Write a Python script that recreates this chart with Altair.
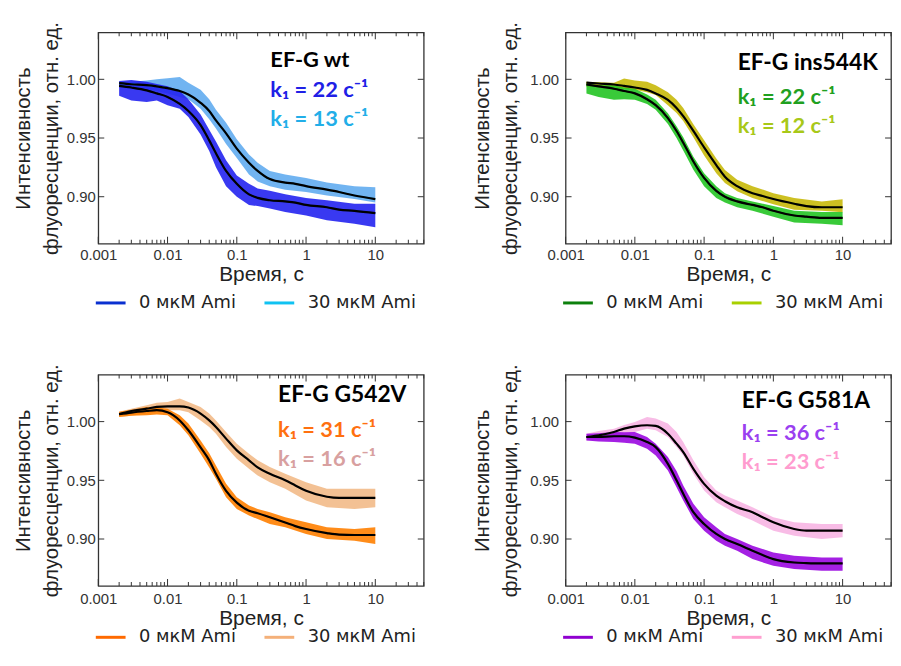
import altair as alt
import pandas as pd

# ---------------- data ----------------
T_FIT = [0.002, 0.003, 0.005, 0.007, 0.01, 0.015, 0.02, 0.03, 0.04, 0.05, 0.07,
         0.1, 0.15, 0.2, 0.3, 0.5, 0.7, 1, 2, 3, 5, 10]
T_BAND = [0.002, 0.003, 0.005, 0.007, 0.01, 0.015, 0.02, 0.03, 0.04, 0.05, 0.07,
          0.1, 0.15, 0.2, 0.3, 0.5, 1, 2, 5, 10]

SERIES = ["0 мкМ Ami", "30 мкМ Ami"]
PANEL_TITLES = ["EF-G wt", "EF-G ins544K", "EF-G G542V", "EF-G G581A"]
RATES = [[22, 13], [22, 12], [31, 16], [36, 23]]

# fitted curves (black lines)
FIT_WT_0 = [0.9944, 0.993, 0.9906, 0.988, 0.985, 0.979, 0.973, 0.961, 0.948, 0.937, 0.922,
            0.911, 0.902, 0.899, 0.897, 0.896, 0.895, 0.893, 0.891, 0.889, 0.888, 0.886]
FIT_WT_30 = [0.9967, 0.9958, 0.995, 0.994, 0.9925, 0.990, 0.987, 0.980, 0.973, 0.965, 0.954,
             0.941, 0.929, 0.922, 0.915, 0.912, 0.911, 0.909, 0.906, 0.904, 0.901, 0.898]
FIT_INS_0 = [0.9956, 0.994, 0.992, 0.990, 0.988, 0.983, 0.978, 0.967, 0.956, 0.946, 0.930,
             0.916, 0.905, 0.900, 0.896, 0.893, 0.891, 0.888, 0.884, 0.883, 0.882, 0.882]
FIT_INS_30 = [0.9972, 0.9964, 0.9956, 0.9944, 0.993, 0.991, 0.988, 0.9825, 0.9756, 0.9686, 0.956,
              0.942, 0.927, 0.917, 0.909, 0.903, 0.9006, 0.898, 0.894, 0.892, 0.891, 0.891]
FIT_G542_0 = [1.0063, 1.0077, 1.009, 1.0097, 1.008, 1.001, 0.9926, 0.978, 0.967, 0.9556, 0.941,
              0.931, 0.924, 0.922, 0.9185, 0.914, 0.911, 0.9085, 0.905, 0.9037, 0.9034, 0.9034]
FIT_G542_30 = [1.0063, 1.009, 1.011, 1.0125, 1.013, 1.013, 1.012, 1.0068, 1.001, 0.9954, 0.9855,
               0.9755, 0.967, 0.961, 0.9556, 0.950, 0.9456, 0.941, 0.936, 0.935, 0.935, 0.935]
FIT_G581_0 = [0.9869, 0.9869, 0.9875, 0.9875, 0.9863, 0.9826, 0.9783, 0.964, 0.950, 0.9385, 0.9228,
              0.9128, 0.9043, 0.900, 0.8957, 0.890, 0.8863, 0.8829, 0.880, 0.8795, 0.8792, 0.8792]
FIT_G581_30 = [0.9869, 0.9883, 0.9912, 0.994, 0.996, 0.9969, 0.9963, 0.9897, 0.9812, 0.9741, 0.9598,
               0.947, 0.937, 0.9322, 0.927, 0.9228, 0.9185, 0.9142, 0.9085, 0.9071, 0.9071, 0.9071]

# spread of the noisy raw traces (lower / upper edge)
BAND_WT_0_LO = [0.986, 0.982, 0.9806, 0.982, 0.978, 0.975, 0.968, 0.953, 0.939, 0.925, 0.909,
                0.900, 0.893, 0.892, 0.890, 0.887, 0.884, 0.880, 0.877, 0.874]
BAND_WT_0_HI = [0.9986, 0.9994, 0.998, 0.996, 0.994, 0.990, 0.983, 0.970, 0.957, 0.947, 0.931,
                0.918, 0.911, 0.907, 0.905, 0.902, 0.899, 0.897, 0.894, 0.894]
BAND_WT_30_LO = [0.993, 0.992, 0.991, 0.990, 0.988, 0.985, 0.983, 0.975, 0.966, 0.958, 0.945,
                 0.933, 0.919, 0.913, 0.909, 0.906, 0.904, 0.901, 0.898, 0.895]
BAND_WT_30_HI = [0.997, 0.998, 0.999, 1.000, 1.001, 1.002, 0.997, 0.991, 0.983, 0.974, 0.963,
                 0.949, 0.936, 0.929, 0.922, 0.919, 0.916, 0.912, 0.909, 0.908]

BAND_INS_0_LO = [0.988, 0.985, 0.9825, 0.983, 0.9825, 0.979, 0.974, 0.962, 0.950, 0.9394, 0.923,
                 0.909, 0.899, 0.895, 0.891, 0.888, 0.883, 0.878, 0.877, 0.8756]
BAND_INS_0_HI = [0.996, 0.995, 0.995, 0.993, 0.992, 0.987, 0.9825, 0.971, 0.960, 0.9506, 0.934,
                 0.920, 0.909, 0.903, 0.899, 0.896, 0.892, 0.888, 0.887, 0.887]
BAND_INS_30_LO = [0.9936, 0.993, 0.992, 0.992, 0.991, 0.989, 0.9867, 0.978, 0.9714, 0.9644, 0.9506,
                  0.935, 0.920, 0.9117, 0.9047, 0.899, 0.8936, 0.889, 0.888, 0.8867]
BAND_INS_30_HI = [0.9978, 0.9975, 0.997, 1.0006, 0.999, 0.998, 0.995, 0.989, 0.9825, 0.9756, 0.9617,
                  0.948, 0.9325, 0.9228, 0.9144, 0.909, 0.903, 0.899, 0.896, 0.8978]

BAND_G542_0_LO = [1.004, 1.005, 1.0054, 1.006, 1.0054, 0.9969, 0.9883, 0.9726, 0.961, 0.9513, 0.9356,
                  0.9256, 0.920, 0.917, 0.9128, 0.910, 0.9043, 0.900, 0.8986, 0.8957]
BAND_G542_0_HI = [1.0083, 1.010, 1.0125, 1.012, 1.011, 1.0054, 0.9983, 0.984, 0.973, 0.9627, 0.947,
                  0.9356, 0.9285, 0.9256, 0.9228, 0.9185, 0.9142, 0.910, 0.9085, 0.910]
BAND_G542_30_LO = [1.004, 1.005, 1.0068, 1.008, 1.0097, 1.0097, 1.008, 1.001, 0.9954, 0.9897, 0.9783,
                   0.9684, 0.9598, 0.9541, 0.9484, 0.9427, 0.9328, 0.927, 0.9256, 0.927]
BAND_G542_30_HI = [1.0083, 1.011, 1.014, 1.016, 1.0168, 1.0197, 1.0168, 1.0125, 1.0068, 1.001, 0.9912,
                   0.9812, 0.9726, 0.967, 0.9613, 0.9556, 0.9484, 0.9427, 0.9427, 0.9427]

BAND_G581_0_LO = [0.984, 0.983, 0.9826, 0.982, 0.9812, 0.9769, 0.9712, 0.9584, 0.944, 0.9328, 0.9171,
                  0.9071, 0.8986, 0.8943, 0.890, 0.8829, 0.8772, 0.8744, 0.873, 0.873]
BAND_G581_0_HI = [0.9897, 0.990, 0.9912, 0.991, 0.9912, 0.9869, 0.9812, 0.9698, 0.958, 0.9456, 0.930,
                  0.9185, 0.910, 0.9043, 0.900, 0.8943, 0.8886, 0.8858, 0.8843, 0.8843]
BAND_G581_30_LO = [0.984, 0.985, 0.9855, 0.988, 0.9912, 0.994, 0.9926, 0.9869, 0.9783, 0.9712, 0.9556,
                   0.9413, 0.9313, 0.927, 0.9214, 0.9157, 0.9071, 0.9028, 0.900, 0.9014]
BAND_G581_30_HI = [0.9897, 0.992, 0.994, 0.997, 0.9997, 1.004, 1.0026, 0.9983, 0.9912, 0.9826, 0.967,
                   0.9527, 0.9413, 0.937, 0.9328, 0.927, 0.9185, 0.9142, 0.9128, 0.9128]

FITS = [(FIT_WT_0, FIT_WT_30), (FIT_INS_0, FIT_INS_30),
        (FIT_G542_0, FIT_G542_30), (FIT_G581_0, FIT_G581_30)]
BANDS = [((BAND_WT_0_LO, BAND_WT_0_HI), (BAND_WT_30_LO, BAND_WT_30_HI)),
         ((BAND_INS_0_LO, BAND_INS_0_HI), (BAND_INS_30_LO, BAND_INS_30_HI)),
         ((BAND_G542_0_LO, BAND_G542_0_HI), (BAND_G542_30_LO, BAND_G542_30_HI)),
         ((BAND_G581_0_LO, BAND_G581_0_HI), (BAND_G581_30_LO, BAND_G581_30_HI))]

# axis tick positions
X_DOMAIN = [0.001, 50]
Y_DOMAIN = [0.86, 1.04]
DECADES = [0.001, 0.01, 0.1, 1, 10]
MINORS = [m * d for d in [0.001, 0.01, 0.1, 1, 10] for m in range(2, 10) if m * d <= 50]
YTICKS = [0.90, 0.95, 1.00]

# ---------------- styles ----------------
BAND_COLORS = [["#2323f0", "#62acf0"], ["#24c424", "#c8b90a"],
               ["#ff8000", "#f2ba88"], ["#9a08e0", "#f7b5e3"]]
LEGEND_COLORS = [["#0a30d0", "#10c2f2"], ["#0c800c", "#a8d000"],
                 ["#ff6a00", "#f4b079"], ["#9000d0", "#ff9fd0"]]
TEXT_COLORS = [["#2020e6", "#22aee8"], ["#20a020", "#a8c818"],
               ["#ff7010", "#d8a0a0"], ["#9a40f0", "#ff9ccf"]]
# annotation anchor (time, title level, first rate level, second rate level)
TEXT_POS = [(0.305, 1.0108, 0.9852, 0.9602), (0.305, 1.0080, 0.9793, 0.9543),
            (0.395, 1.0165, 0.9873, 0.9622), (0.35, 1.0115, 0.9845, 0.9595)]

W, H = 328, 213
XS = alt.Scale(type="log", domain=X_DOMAIN, nice=False)
YS = alt.Scale(domain=Y_DOMAIN, nice=False, zero=False)
AX_COL = "#333333"
LABEL_FONT = "Liberation Sans"


def tick_layer(ts, vs, orient, size, dx=0, dy=0):
    df = pd.DataFrame({"t": ts, "v": vs})
    return alt.Chart(df).mark_tick(
        orient=orient, size=size, thickness=1, color=AX_COL, opacity=1,
        xOffset=dx, yOffset=dy
    ).encode(
        x=alt.X("t:Q", scale=XS, axis=None),
        y=alt.Y("v:Q", scale=YS, axis=None),
    )


def make_panel(i, col, row):
    lab_pad_x = 4 if row == 0 else 6
    lab_pad_y = 3 if col == 0 else 7
    tit_pad_y = 5 if col == 0 else 9
    leg_y = 256 if row == 0 else 248

    x_labels = alt.Axis(orient="bottom", values=DECADES, format="~g", ticks=False,
                        domain=False, grid=False, title="Время, с", labelFlush=False,
                        labelOverlap=False, labelFont=LABEL_FONT, labelFontSize=15,
                        labelColor="#333333", labelPadding=lab_pad_x,
                        titleFont=LABEL_FONT, titleFontSize=21, titleFontWeight="normal",
                        titleColor="#222222", titlePadding=1)
    y_labels = alt.Axis(orient="left", values=YTICKS, format=".2f", ticks=False,
                        domain=False, grid=False,
                        title=["Интенсивность", "флуоресценции, отн. ед."],
                        labelFont=LABEL_FONT, labelFontSize=15, labelColor="#333333",
                        labelPadding=lab_pad_y, titleFont=LABEL_FONT, titleFontSize=20.5,
                        titleFontWeight="normal", titleColor="#222222",
                        titleLineHeight=28, titlePadding=tit_pad_y)

    fit0, fit30 = FITS[i]
    fit_df = pd.DataFrame({
        "t": T_FIT + T_FIT,
        "v": fit0 + fit30,
        "series": [SERIES[0]] * len(T_FIT) + [SERIES[1]] * len(T_FIT),
    })
    (lo0, hi0), (lo30, hi30) = BANDS[i]
    band_df = pd.DataFrame({
        "t": T_BAND + T_BAND,
        "lo": lo0 + lo30,
        "hi": hi0 + hi30,
        "series": [SERIES[0]] * len(T_BAND) + [SERIES[1]] * len(T_BAND),
    })

    band30 = alt.Chart(band_df).transform_filter(alt.datum.series == SERIES[1]).mark_area(
        color=BAND_COLORS[i][1], opacity=0.9
    ).encode(
        x=alt.X("t:Q", scale=XS, axis=x_labels),
        y=alt.Y("lo:Q", scale=YS, axis=y_labels),
        y2="hi:Q",
    )
    band0 = alt.Chart(band_df).transform_filter(alt.datum.series == SERIES[0]).mark_area(
        color=BAND_COLORS[i][0], opacity=0.9
    ).encode(
        x=alt.X("t:Q", scale=XS, axis=None),
        y=alt.Y("lo:Q", scale=YS, axis=None),
        y2="hi:Q",
    )
    legend_line = alt.Chart(fit_df).mark_line(strokeWidth=1.5, interpolate="monotone").encode(
        x=alt.X("t:Q", scale=XS, axis=None),
        y=alt.Y("v:Q", scale=YS, axis=None),
        color=alt.Color("series:N",
                        scale=alt.Scale(domain=SERIES, range=LEGEND_COLORS[i]),
                        legend=alt.Legend(orient="none", legendX=-4, legendY=leg_y,
                                          direction="horizontal", title=None,
                                          symbolType="stroke", symbolSize=900,
                                          symbolStrokeWidth=3, labelFont="DejaVu Sans",
                                          labelFontSize=18, labelColor="#222222",
                                          labelOffset=12, columnPadding=22, padding=0)),
    )
    fit_line = alt.Chart(fit_df).mark_line(color="black", strokeWidth=2.2,
                                           interpolate="monotone").encode(
        x=alt.X("t:Q", scale=XS, axis=None),
        y=alt.Y("v:Q", scale=YS, axis=None),
        detail="series:N",
    )

    tx, ty_title, ty1, ty2 = TEXT_POS[i]
    title_df = pd.DataFrame({"t": [tx], "v": [ty_title], "label": [PANEL_TITLES[i]]})
    title_text = alt.Chart(title_df).mark_text(
        align="left", baseline="alphabetic", font="Lato", fontWeight="bold",
        fontSize=23 if i else 22, color="black"
    ).encode(
        x=alt.X("t:Q", scale=XS, axis=None),
        y=alt.Y("v:Q", scale=YS, axis=None),
        text="label:N",
    )
    layers = [band30, band0, legend_line, fit_line, title_text]
    for j, ty in enumerate([ty1, ty2]):
        kdf = pd.DataFrame({"t": [tx], "v": [ty],
                            "label": [f"k\u2081 = {RATES[i][j]} \u0441\u207b\u00b9"]})
        layers.append(
            alt.Chart(kdf).mark_text(
                align="left", baseline="alphabetic", font="Lato", fontWeight="bold",
                fontSize=22, color=TEXT_COLORS[i][j]
            ).encode(
                x=alt.X("t:Q", scale=XS, axis=None),
                y=alt.Y("v:Q", scale=YS, axis=None),
                text="label:N",
            )
        )

    # inward ticks on all four sides of the frame
    y_lo, y_hi = Y_DOMAIN
    x_lo, x_hi = X_DOMAIN
    layers += [
        tick_layer(DECADES, [y_lo] * len(DECADES), "vertical", 7, dy=-3.5),
        tick_layer(MINORS, [y_lo] * len(MINORS), "vertical", 4, dy=-2),
        tick_layer(DECADES, [y_hi] * len(DECADES), "vertical", 7, dy=3.5),
        tick_layer(MINORS, [y_hi] * len(MINORS), "vertical", 4, dy=2),
        tick_layer([x_lo] * len(YTICKS), YTICKS, "horizontal", 6, dx=3),
        tick_layer([x_hi] * len(YTICKS), YTICKS, "horizontal", 6, dx=-3),
    ]

    return alt.layer(*layers).resolve_axis(x="independent", y="independent").properties(
        width=W, height=H)


row1 = alt.hconcat(make_panel(0, 0, 0), make_panel(1, 1, 0), spacing=47).resolve_scale(
    color="independent")
row2 = alt.hconcat(make_panel(2, 0, 1), make_panel(3, 1, 1), spacing=47).resolve_scale(
    color="independent")

chart = alt.vconcat(row1, row2, spacing=50).resolve_scale(color="independent").properties(
    padding={"left": 5, "top": 10, "right": 0, "bottom": 0},
    background="white",
).configure_view(stroke=AX_COL, strokeWidth=1.3)

chart.save("out.html", embed_options={"renderer": "svg", "actions": False})
